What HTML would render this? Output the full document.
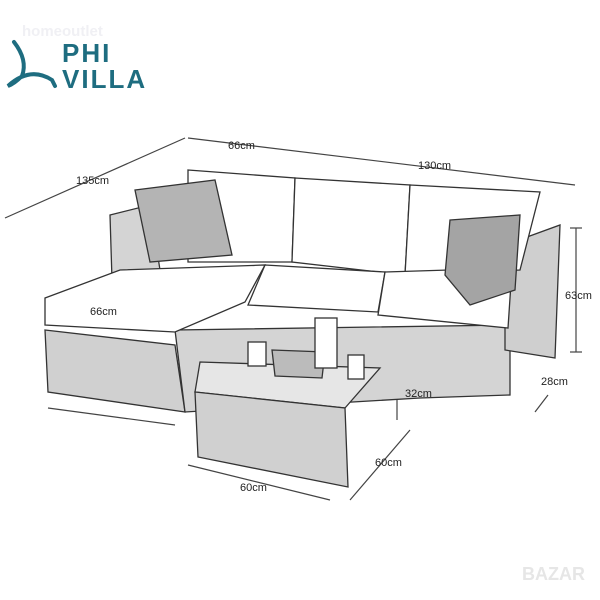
<!DOCTYPE html>
<html><head><style>
html,body{margin:0;padding:0;background:#fff;width:600px;height:600px;overflow:hidden}
text{font-family:"Liberation Sans",sans-serif}
</style></head><body>
<svg width="600" height="600" viewBox="0 0 600 600" xmlns="http://www.w3.org/2000/svg">
<rect width="600" height="600" fill="#fff"/>
<text x="22" y="36" font-size="15" font-weight="bold" fill="#f0f0f4">homeoutlet</text>
<path d="M14 42 Q28 60 22 76 Q14 84 8 86 Q30 66 52 80 L55 86" fill="none" stroke="#1e6d80" stroke-width="4" stroke-linecap="round"/>
<text x="62" y="62" font-size="26" font-weight="bold" fill="#1e6d80" letter-spacing="2">PHI</text>
<text x="62" y="88" font-size="26" font-weight="bold" fill="#1e6d80" letter-spacing="2">VILLA</text>
<g stroke="#444" stroke-width="1.2" fill="none">
<line x1="5" y1="218" x2="185" y2="138"/><line x1="188" y1="138" x2="575" y2="185"/>
<line x1="570" y1="228" x2="582" y2="228"/><line x1="576" y1="228" x2="576" y2="352"/><line x1="570" y1="352" x2="582" y2="352"/>
<line x1="48" y1="408" x2="175" y2="425"/><line x1="188" y1="465" x2="330" y2="500"/>
<line x1="410" y1="430" x2="350" y2="500"/><line x1="548" y1="395" x2="535" y2="412"/>
<line x1="397" y1="365" x2="397" y2="420"/>
</g>
<g stroke="#333" stroke-width="1.3">
<polygon points="110,215 150,205 160,270 112,280" fill="#d4d4d4"/>
<polygon points="45,330 175,345 185,412 48,392" fill="#d0d0d0"/>
<polygon points="175,330 510,325 510,395 420,398 185,412" fill="#d4d4d4"/>
<polygon points="505,245 560,225 555,358 505,350" fill="#cfcfcf"/>
<polygon points="188,170 295,178 292,262 188,262" fill="#fff"/>
<polygon points="295,178 410,185 405,275 292,262" fill="#fff"/>
<polygon points="410,185 540,192 520,270 405,275" fill="#fff"/>
<polygon points="45,298 120,270 265,265 245,302 175,332 45,325" fill="#fff"/>
<polygon points="265,265 385,272 378,312 248,305" fill="#fff"/>
<polygon points="385,272 512,268 508,328 378,315" fill="#fff"/>
<polygon points="135,190 215,180 232,255 150,262" fill="#b4b4b4"/>
<polygon points="450,220 520,215 515,290 470,305 445,275" fill="#a4a4a4"/>
<polygon points="200,362 380,368 345,408 195,392" fill="#e6e6e6"/>
<polygon points="195,392 345,408 348,487 198,457" fill="#d0d0d0"/>
<polygon points="272,350 325,352 322,378 275,376" fill="#bbb"/>
<rect x="315" y="318" width="22" height="50" fill="#fff"/>
<rect x="248" y="342" width="18" height="24" fill="#fff"/>
<rect x="348" y="355" width="16" height="24" fill="#fff"/>
</g>
<g font-size="11" fill="#222">
<text x="76" y="184">135cm</text><text x="228" y="149">66cm</text>
<text x="418" y="169">130cm</text><text x="565" y="299">63cm</text>
<text x="90" y="315">66cm</text><text x="405" y="397">32cm</text>
<text x="541" y="385">28cm</text><text x="375" y="466">60cm</text>
<text x="240" y="491">60cm</text>
</g>
<text x="522" y="580" font-size="18" font-weight="bold" fill="#e6e6e6">BAZAR</text>
</svg>
</body></html>
